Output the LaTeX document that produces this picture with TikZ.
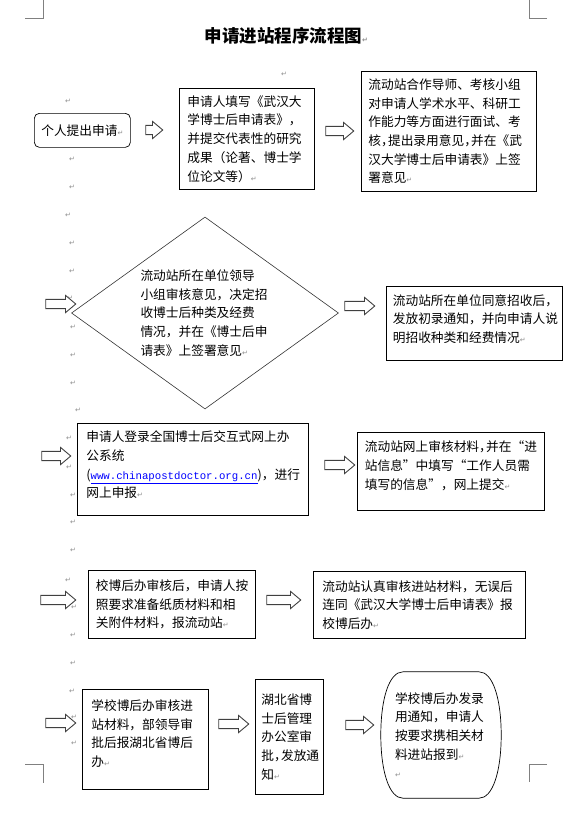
\documentclass[tikz,border=0pt]{standalone}
\usepackage{fontspec}
\usetikzlibrary{shapes.arrows,shapes.geometric}
\newfontfamily\cjkfont{Noto Sans CJK SC}
\newfontfamily\arrowsym{DejaVu Sans}
\newfontfamily\webfont{Liberation Mono}
\newcommand\boxfont{\cjkfont\fontsize{12.7}{18.7}\selectfont}
\newcommand\titlefont{\cjkfont\bfseries\fontsize{17.5}{20}\selectfont}
\newcommand\retmark{{\color{black!45}\arrowsym\fontsize{7}{7}\selectfont ↵}}
\newcommand\hcomma{\makebox[.55em][l]{，}}
\newcommand\weburl[1]{{\color{blue}\webfont\fontsize{10.7}{12}\selectfont\underline{#1}}}
\tikzset{
  procbox/.style={draw, rectangle, anchor=north west, align=left, inner ysep=2pt,
    font=\boxfont, line width=0.7pt},
  decision/.style={diamond, draw=black!80, line width=0.6pt, aspect=1.39,
    minimum width=267pt, minimum height=192pt, inner sep=0pt,
    text width=129pt, align=left, font=\boxfont},
  blockarrow/.style={single arrow, draw=black!75, fill=white, line width=0.9pt,
    inner sep=4.2pt, single arrow head extend=4pt, single arrow tip angle=80,
    minimum height=#1},
  blockarrow/.default=29pt,
  para/.style={inner sep=0pt},
  crop/.style={black!50, line width=0.6pt}
}
\begin{document}
\begin{tikzpicture}[x=1pt,y=-1pt]
\useasboundingbox (0,0) rectangle (585,814);
% page corner marks
\draw[crop] (25,18) -- (43,18) -- (43,0);
\draw[crop] (547,18) -- (529,18) -- (529,0);
\draw[crop] (25,764) -- (43,764) -- (43,783);
\draw[crop] (547,764) -- (529,764) -- (529,782);

\node[anchor=west, font=\titlefont] (title) at (201,36) {申请进站程序流程图\retmark};

% empty paragraphs
\foreach \px/\py [count=\i] in {284/74, 68/101, 72/159, 72/187, 68/215, 72/243,
    72/271, 70/298, 73/327, 73/355, 73/383, 78/410, 69/438, 69/467, 73/495,
    73/522, 73/550, 68/580, 74/607, 73/635, 73/663, 72/691, 74/717, 74/743}
  \node[para] (p\i) at (\px,\py) {\retmark};

% row 1
\node[procbox, rounded corners=5pt, align=center, minimum width=96pt,
  minimum height=34pt] (start) at (34,113) {个人提出申请\retmark};
\node[procbox, text width=119pt, inner xsep=8pt, minimum height=101pt] (fill) at (179,88)
  {申请人填写《武汉大\\学博士后申请表》，\\并提交代表性的研究\\成果（论著、博士学\\位论文等）\retmark};
\node[procbox, text width=161pt, inner xsep=7pt, minimum height=120pt] (interview) at (361,71)
  {流动站合作导师、考核小组\\对申请人学术水平、科研工\\作能力等方面进行面试、考\\核\hcomma 提出录用意见\hcomma 并在《武\\汉大学博士后申请表》上签\\署意见\retmark};
\node[blockarrow=17pt] (ar1) at (151.5,130) {};
\node[blockarrow=28pt] (ar2) at (337,131) {};

% row 2
\node[decision] (decide) at (205,313)
  {流动站所在单位领导\\小组审核意见，决定招\\收博士后种类及经费\\情况，并在《博士后申\\请表》上签署意见\retmark};
\node[procbox, text width=163pt, inner xsep=6.5pt, minimum height=74pt] (admit) at (386,286)
  {流动站所在单位同意招收后，\\发放初录通知，并向申请人说\\明招收种类和经费情况\retmark\\[-9pt]\mbox{}};
\node[blockarrow=30pt] (ar3) at (58,304) {};
\node[blockarrow=30pt] (ar4) at (357,306) {};

% row 3
\node[procbox, text width=213pt, inner xsep=9pt, minimum height=92pt] (login) at (77,423)
  {申请人登录全国博士后交互式网上办\\公系统\\(\weburl{www.chinapostdoctor.org.cn})，进行\\网上申报\retmark\\[-9pt]\mbox{}};
\node[procbox, text width=172pt, inner xsep=7.5pt, minimum height=78pt] (online) at (357,432)
  {流动站网上审核材料\hcomma 并在“进\\站信息”中填写“工作人员需\\填写的信息”，网上提交\retmark\\[-6pt]\mbox{}};
\node[blockarrow=29pt] (ar5) at (53.5,456) {};
\node[blockarrow=30pt] (ar6) at (337,465) {};

% row 4
\node[procbox, text width=152pt, inner xsep=7.5pt, minimum height=68pt] (paper) at (88,570)
  {校博后办审核后，申请人按\\照要求准备纸质材料和相\\关附件材料，报流动站\retmark};
\node[procbox, text width=194pt, inner xsep=9pt, minimum height=67pt] (forward) at (313,571)
  {流动站认真审核进站材料，无误后\\连同《武汉大学博士后申请表》报\\校博后办\retmark};
\node[blockarrow=35pt] (ar7) at (55.5,600) {};
\node[blockarrow=34pt] (ar8) at (281,600) {};

% row 5
\node[procbox, text width=108pt, inner xsep=9pt, minimum height=100pt] (school) at (82,689)
  {学校博后办审核进\\站材料，部领导审\\批后报湖北省博后\\办\retmark\\[-6pt]\mbox{}};
\node[procbox, text width=56pt, inner xsep=6pt, minimum height=115pt] (prov) at (255,679)
  {湖北省博\\士后管理\\办公室审\\批\hcomma 发放通\\知\retmark};
\node[text width=92pt, inner xsep=14pt, minimum height=126pt, align=left, font=\boxfont]
  (report) at (441,735)
  {学校博后办发录\\用通知，申请人\\按要求携相关材\\料进站报到\retmark\\\retmark};
\draw[line width=0.7pt] ([xshift=-38pt]report.north) -- ([xshift=38pt]report.north)
  .. controls +(14,0) and +(0,-36) .. (report.east)
  .. controls +(0,36) and +(14,0) .. ([xshift=38pt]report.south)
  -- ([xshift=-38pt]report.south)
  .. controls +(-14,0) and +(0,36) .. (report.west)
  .. controls +(0,-36) and +(-14,0) .. ([xshift=-38pt]report.north);
\node[blockarrow=30pt] (ar9) at (58,723) {};
\node[blockarrow=30pt] (ar10) at (231,724) {};
\node[blockarrow=28pt] (ar11) at (357,725) {};
\end{tikzpicture}
\end{document}
